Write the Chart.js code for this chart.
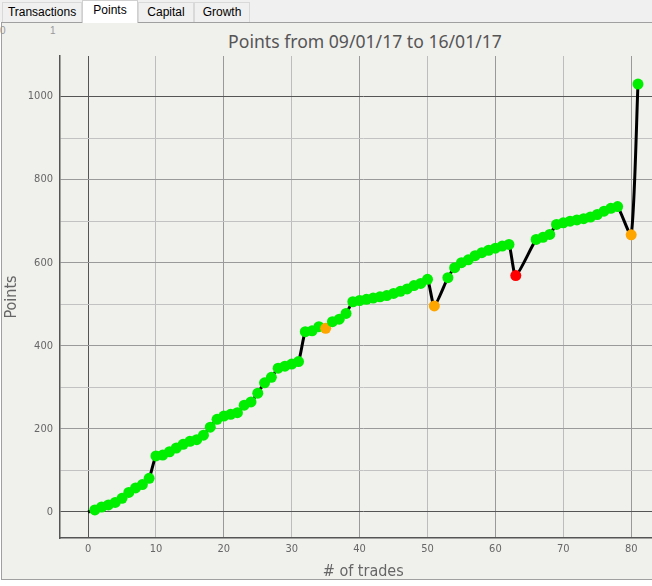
<!DOCTYPE html>
<html>
<head>
<meta charset="utf-8">
<script src="https://cdn.jsdelivr.net/npm/chart.js@4.4.1/dist/chart.umd.min.js"></script>
<style>
    body { margin: 0; width: 652px; height: 586px; background: #fff; overflow: hidden; position: relative; font-family: "Liberation Sans", Arial, sans-serif; }
    .tabs { position: absolute; left: 0; top: 0; width: 652px; height: 22px; background: #f0f0f0; }
    .tab { position: absolute; top: 2px; height: 20px; box-sizing: border-box; border: 1px solid #d9d9d9; border-bottom: none; background: #f0f0f0; font-size: 12px; line-height: 19px; text-align: center; color: #000; }
    .tab.on { top: 0; height: 23px; background: #fff; border-color: #d0d0d0; z-index: 2; }
    .panel { position: absolute; left: 1px; top: 22px; width: 700px; height: 556px; border: 1px solid #a0a0a0; background: #f0f0ed; }
    .ruler { position: absolute; top: 25px; font-size: 10px; color: #999; }
    .title { position: absolute; left: 165px; width: 400px; top: 30px; text-align: center; font-family: "Noto Sans", sans-serif; font-size: 17.6px; color: #555; line-height: 22px; }
    #wrap { position: absolute; left: 0; top: 23px; width: 672px; height: 563px; }
</style>
</head>
<body>
<div class="tabs">
    <div class="tab" style="left:2px;width:80px">Transactions</div>
    <div class="tab on" style="left:82px;width:56px">Points</div>
    <div class="tab" style="left:138px;width:56px">Capital</div>
    <div class="tab" style="left:194px;width:56px">Growth</div>
</div>
<div class="panel"></div>
<div class="ruler" style="left:0px">0</div>
<div class="ruler" style="left:50px">1</div>
<div class="title" id="chartTitle"></div>
<div id="wrap"><canvas id="pointsChart"></canvas></div>

<script>
    // trade numbers and cumulative points
    const trades = [
        0, 1, 2, 3, 4, 5, 6, 7, 8, 9,
        10, 11, 12, 13, 14, 15, 16, 17, 18, 19,
        20, 21, 22, 23, 24, 25, 26, 27, 28, 29,
        30, 31, 32, 33, 34, 35, 36, 37, 38, 39,
        40, 41, 42, 43, 44, 45, 46, 47, 48, 49,
        50, 51, 53, 54, 55, 56, 57, 58, 59, 60,
        61, 62, 63, 66, 67, 68, 69, 70, 71, 72,
        73, 74, 75, 76, 77, 78, 80, 81
    ];
    const points = [
        0, 5, 12, 17, 23, 33, 47, 58, 66, 81,
        135, 137, 145, 154, 163, 170, 174, 185, 204, 223,
        231, 235, 239, 257, 265, 286, 311, 324, 346, 351,
        356, 362, 434, 436, 446, 442, 458, 464, 478, 506,
        509, 512, 515, 518, 521, 526, 531, 537, 545, 550,
        560, 496, 564, 588, 600, 607, 617, 624, 630, 635,
        640, 644, 569, 656, 661, 668, 692, 696, 700, 703,
        706, 710, 716, 724, 731, 735, 667, 1030
    ];
    const xTicks = [0, 10, 20, 30, 40, 50, 60, 70, 80];
    const yTicks = [0, 100, 200, 300, 400, 500, 600, 700, 800, 900, 1000];
    const yLabels = [0, 200, 400, 600, 800, 1000];

    const chartTitle = "Points from 09/01/17 to 16/01/17";
    document.getElementById("chartTitle").textContent = chartTitle;

    function pointColor(ctx) {
        const i = ctx.dataIndex;
        if (i === 0) return "#000";
        const diff = points[i] - points[i - 1];
        if (diff >= 0) return "#00ee00";
        if (diff < -72) return "#ff0000";
        return "#ffa500";
    }

    function xGridColor(ctx) {
        const v = ctx.tick ? ctx.tick.value : 1;
        if (v === 0) return "#555";
        return v % 20 === 0 ? "#9a9a9a" : "#bdbdbd";
    }

    function yGridColor(ctx) {
        const v = ctx.tick ? ctx.tick.value : 1;
        if (v === 0 || v === 1000) return "#555";
        return v % 200 === 0 ? "#9a9a9a" : "#c2c2c2";
    }

    const axisFont = { family: "'Liberation Sans Narrow', 'DejaVu Sans Condensed', sans-serif", size: 11 };
    const titleFont = { family: "'Liberation Sans Narrow', 'DejaVu Sans Condensed', sans-serif", size: 16 };

    const ctx = document.getElementById("pointsChart").getContext("2d");
    new Chart(ctx, {
        type: "line",
        data: {
            datasets: [{
                label: "Points",
                data: trades.map((t, i) => ({ x: t, y: points[i] })),
                borderColor: "#000",
                borderWidth: 3,
                tension: 0.2,
                pointRadius: c => (c.dataIndex === 0 ? 0 : 5.5),
                pointHoverRadius: c => (c.dataIndex === 0 ? 0 : 5.5),
                pointBackgroundColor: pointColor,
                pointBorderColor: pointColor,
                pointBorderWidth: 0,
                clip: false
            }]
        },
        options: {
            responsive: true,
            maintainAspectRatio: false,
            animation: false,
            events: [],
            layout: { padding: { top: 33, right: 0, bottom: 0, left: 0 } },
            plugins: {
                legend: { display: false },
                tooltip: { enabled: false },
                title: { display: false }
            },
            scales: {
                x: {
                    type: "linear",
                    min: -4.13,
                    max: 85.2,
                    afterBuildTicks: s => { s.ticks = xTicks.map(v => ({ value: v })); },
                    afterFit: s => { s.height = 48; },
                    ticks: { color: "#666", font: axisFont, padding: 5, maxRotation: 0 },
                    grid: { color: xGridColor, lineWidth: 1, drawTicks: false },
                    border: { color: "#555", width: 1.5 },
                    title: { display: true, text: "# of trades", color: "#666", font: titleFont, padding: { top: 0, bottom: 5 } }
                },
                y: {
                    min: -62.6,
                    max: 1097.5,
                    afterBuildTicks: s => { s.ticks = yTicks.map(v => ({ value: v })); },
                    afterFit: s => { s.width = 60; },
                    ticks: {
                        color: "#666",
                        font: axisFont,
                        padding: 7,
                        callback: v => (yLabels.includes(v) ? String(v) : "")
                    },
                    grid: { color: yGridColor, lineWidth: 1, drawTicks: false },
                    border: { color: "#555", width: 1.5 },
                    title: { display: true, text: "Points", color: "#666", font: titleFont, padding: { top: 2, bottom: 0 } }
                }
            }
        }
    });
</script>
</body>
</html>
